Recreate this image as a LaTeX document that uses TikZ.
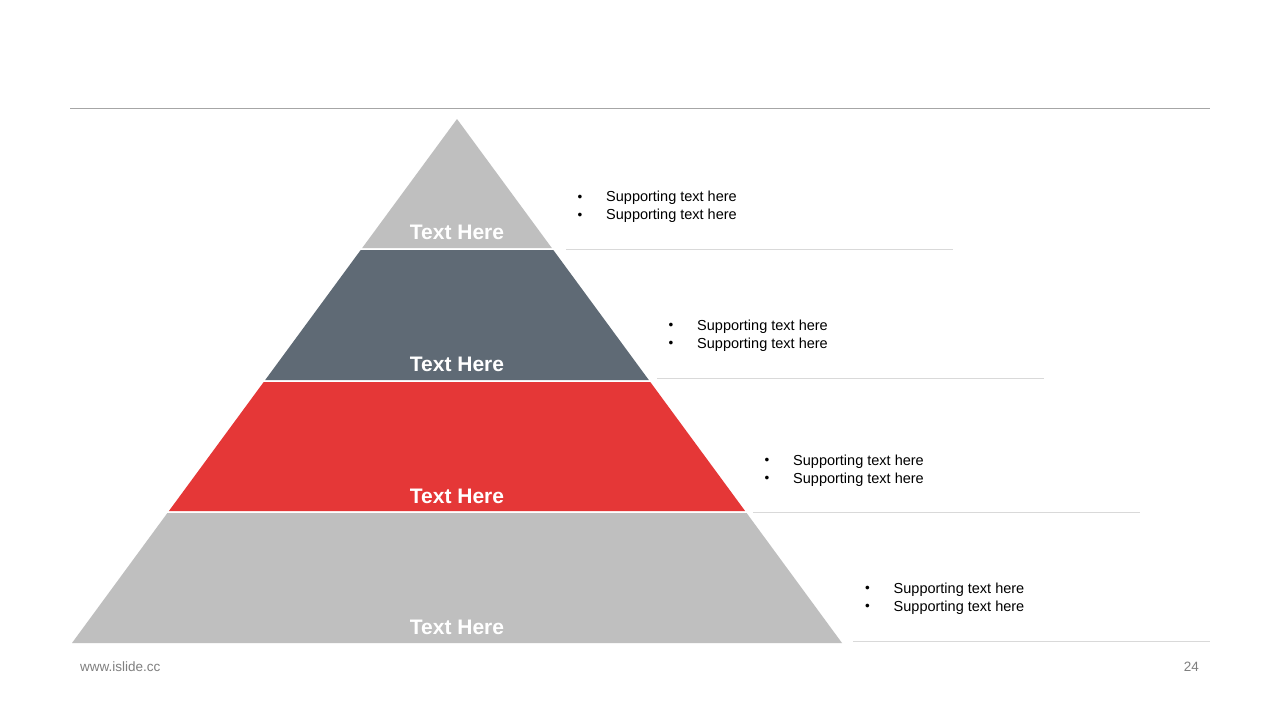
\documentclass[tikz,border=0pt]{standalone}
\usepackage{fontspec}
\setmainfont{Liberation Sans}
\definecolor{tierlight}{HTML}{BFBFBF}
\definecolor{tierdark}{HTML}{5F6A75}
\definecolor{tierred}{HTML}{E53737}
\definecolor{rulegray}{HTML}{A6A6A6}
\definecolor{linegray}{HTML}{D9D9D9}
\definecolor{footgray}{HTML}{7F7F7F}
\tikzset{
  tierlabel/.style={anchor=base, inner sep=0pt, text=white, font=\fontsize{21}{21}\selectfont\bfseries},
  support/.style={anchor=base west, inner sep=0pt, text=black, font=\fontsize{14.5}{14.5}\selectfont},
  sepline/.style={draw=linegray, line width=1pt},
  foot/.style={anchor=base, inner sep=0pt, text=footgray, font=\fontsize{13.5}{13.5}\selectfont}
}
\newcommand{\bul}[1]{\makebox[28.5pt][l]{\raisebox{0.3pt}{\fontsize{13.5}{13.5}\selectfont•}}#1}
\begin{document}
\begin{tikzpicture}[x=1pt,y=-1pt]
\useasboundingbox[fill=white] (0,0) rectangle (1280,720);
% top rule
\draw[draw=rulegray, line width=1pt] (70,108) -- (1210,108);
% tiers (apex 457,119; half-width = 0.735*(y-119))
\fill[tierlight] (457,119) -- (551.8,248) -- (362.2,248) -- cycle;
\fill[tierdark] (360.7,250) -- (553.3,250) -- (648.8,380) -- (265.2,380) -- cycle;
\fill[tierred] (263.7,382) -- (650.3,382) -- (745.1,511) -- (168.9,511) -- cycle;
\fill[tierlight] (167.4,513) -- (746.6,513) -- (842,643) -- (72,643) -- cycle;
% tier labels
\node[tierlabel] (t1) at (457,239.5) {Text Here};
\node[tierlabel] (t2) at (457,371.5) {Text Here};
\node[tierlabel] (t3) at (457,503.5) {Text Here};
\node[tierlabel] (t4) at (457,634.5) {Text Here};
% separator lines
\draw[sepline] (566,249.3) -- (953,249.3);
\draw[sepline] (657,378.3) -- (1044,378.3);
\draw[sepline] (753,512.7) -- (1140,512.7);
\draw[sepline] (853,641) -- (1210,641);
% supporting text
\node[support] (s1a) at (577.5,201.5) {\bul{Supporting text here}};
\node[support] (s1b) at (577.5,219.5) {\bul{Supporting text here}};
\node[support] (s2a) at (668.5,330) {\bul{Supporting text here}};
\node[support] (s2b) at (668.5,348) {\bul{Supporting text here}};
\node[support] (s3a) at (764.5,465) {\bul{Supporting text here}};
\node[support] (s3b) at (764.5,483) {\bul{Supporting text here}};
\node[support] (s4a) at (865,593) {\bul{Supporting text here}};
\node[support] (s4b) at (865,611) {\bul{Supporting text here}};
% footer
\node[foot, anchor=base west] (url) at (80,671) {www.islide.cc};
\node[foot, anchor=base east] (pg) at (1199,671) {24};
\end{tikzpicture}
\end{document}
